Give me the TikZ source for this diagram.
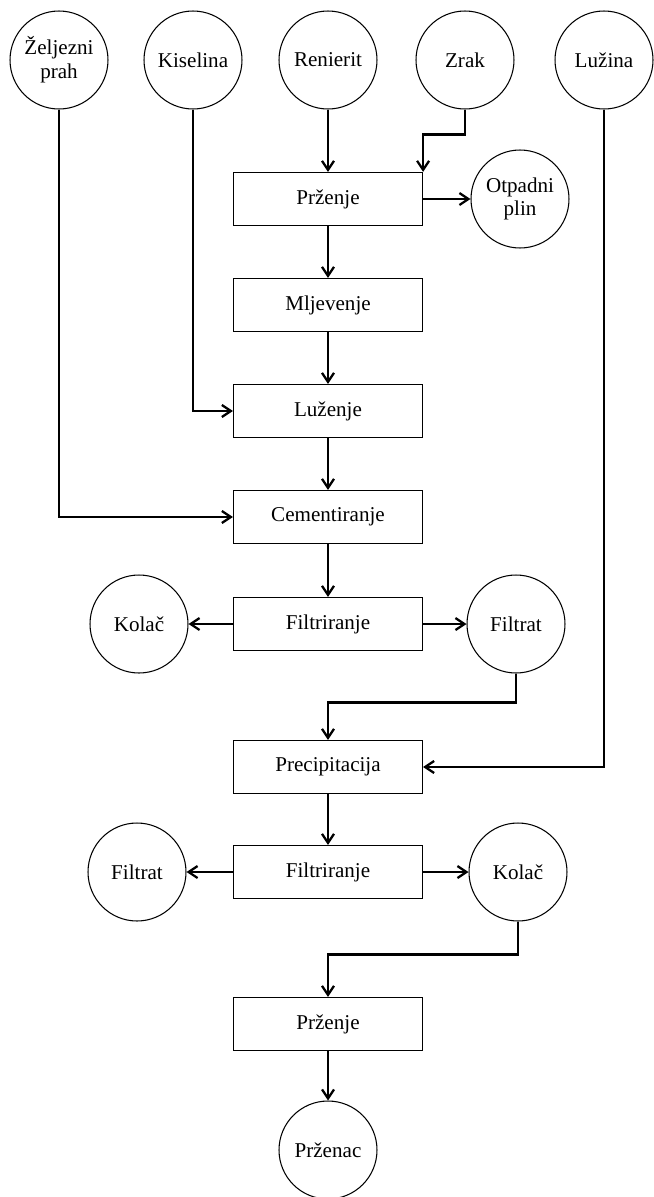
\documentclass[tikz,border=0pt]{standalone}
\usepackage{fontspec}
\setmainfont{Liberation Serif}
\usetikzlibrary{positioning,arrows.meta}
\tikzset{
  procbox/.style={draw, line width=0.7pt, minimum width=3.78cm, minimum height=1.06cm,
              inner sep=2pt, font=\fontsize{12}{14}\selectfont},
  stream/.style={circle, draw, line width=0.6pt, minimum size=1.96cm, inner sep=1pt,
              align=center, font=\fontsize{12}{13.5}\selectfont},
  flow/.style={->, line width=1.3pt},
  >={Straight Barb[length=1.8mm,width=2.4mm]},
}
\begin{document}
\begin{tikzpicture}[x=0.02cm, y=-0.02cm]
\useasboundingbox (0,0) rectangle (653,1197);
% inputs along the top
\node[stream] (zeljezni) at (59,60) {Željezni\\prah};
\node[stream] (kiselina) at (193,60) {Kiselina};
\node[stream] (renierit) at (328,60) {Renierit};
\node[stream] (zrak) at (465,60) {Zrak};
\node[stream] (luzina) at (604,60) {Lužina};
% main column
\node[procbox] (przenje) at (328,199) {Prženje};
\node[procbox] (mljevenje) at (328,305) {Mljevenje};
\node[procbox] (luzenje) at (328,411) {Luženje};
\node[procbox] (cement) at (328,517) {Cementiranje};
\node[procbox] (filtr) at (328,624) {Filtriranje};
\node[procbox] (precip) at (328,767) {Precipitacija};
\node[procbox] (filtrb) at (328,872) {Filtriranje};
\node[procbox] (przenjeb) at (328,1024) {Prženje};
% products at the sides
\node[stream] (otpadni) at (520,199) {Otpadni\\plin};
\node[stream] (kolac) at (139,624) {Kolač};
\node[stream] (filtrat) at (516,624) {Filtrat};
\node[stream] (filtratb) at (137,872) {Filtrat};
\node[stream] (kolacb) at (518,872) {Kolač};
\node[stream] (przenac) at (328,1150) {Prženac};
% connectors
\draw[flow] (renierit) -- (przenje);
\draw[flow] (zrak.south) -- ++(0,25) -| (przenje.north east);
\draw[flow] (przenje.east) -- (otpadni.west);
\draw[flow] (przenje) -- (mljevenje);
\draw[flow] (mljevenje) -- (luzenje);
\draw[flow] (kiselina.south) |- (luzenje.west);
\draw[flow] (luzenje) -- (cement);
\draw[flow] (zeljezni.south) |- (cement.west);
\draw[flow] (cement) -- (filtr);
\draw[flow] (filtr.west) -- (kolac.east);
\draw[flow] (filtr.east) -- (filtrat.west);
\draw[flow] (filtrat.south) -- ++(0,29) -| (precip.north);
\draw[flow] (luzina.south) |- (precip.east);
\draw[flow] (precip) -- (filtrb);
\draw[flow] (filtrb.west) -- (filtratb.east);
\draw[flow] (filtrb.east) -- (kolacb.west);
\draw[flow] (kolacb.south) -- ++(0,33) -| (przenjeb.north);
\draw[flow] (przenjeb) -- (przenac);
\end{tikzpicture}
\end{document}
